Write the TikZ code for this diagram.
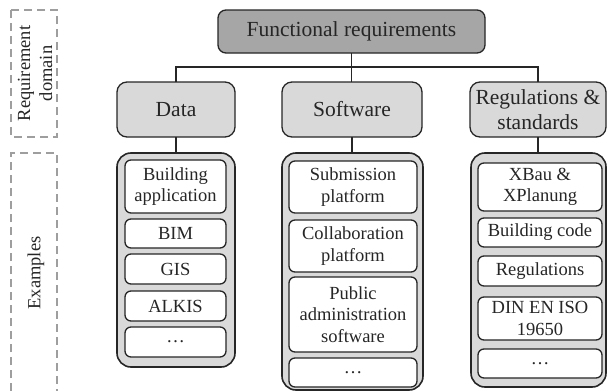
\documentclass[tikz,border=0pt]{standalone}
\usepackage{fontspec}
\setmainfont{Liberation Serif}
\definecolor{edge}{HTML}{262626}
\definecolor{topgray}{HTML}{A6A6A6}
\definecolor{midgray}{HTML}{D9D9D9}
\definecolor{dashgray}{HTML}{9E9E9E}
\begin{document}
\begin{tikzpicture}[x=1pt,y=-1pt,
  every node/.style={inner sep=0pt,outer sep=0pt,text=edge},
  topbox/.style={draw=edge,fill=topgray,line width=1.3pt,rounded corners=8pt,
    font=\fontsize{21.5}{25}\selectfont},
  domainbox/.style={draw=edge,fill=midgray,line width=1.3pt,rounded corners=10pt,
    align=center,font=\fontsize{21.5}{25}\selectfont},
  groupbox/.style={draw=edge,fill=midgray,line width=1.6pt,rounded corners=14pt},
  itembox/.style={draw=edge,fill=white,line width=1.3pt,rounded corners=6pt,
    align=center,font=\fontsize{18.5}{21.6}\selectfont},
  sidebox/.style={draw=dashgray,line width=1.5pt,dash pattern=on 8pt off 5pt},
  sidelabel/.style={rotate=90,align=center,font=\fontsize{18.5}{22}\selectfont},
  link/.style={draw=edge,line width=1.3pt}
]
\useasboundingbox (0,0) rectangle (608,391);

% side frames
\draw[sidebox] (11,10) rectangle (57,137);
\draw[sidebox] (11,391) -- (11,153) -- (57,153) -- (57,391);
\node[sidelabel] (labdomain) at (35,73.5) {Requirement\\domain};
\node[sidelabel] (labexamples) at (36,273) {Examples};

% top
\node[topbox,minimum width=267pt,minimum height=43pt] (top) at (351.5,31.5) {Functional requirements};

% domains
\node[domainbox,minimum width=118pt,minimum height=55pt] (data) at (176,109.5) {Data};
\node[domainbox,minimum width=140pt,minimum height=55pt] (soft) at (352,109.5) {Software};
\node[domainbox,minimum width=136pt,minimum height=55pt] (regs) at (538,109.5) {Regulations \&\\standards};

\coordinate (bus) at (0,67);
\draw[link] (top.south) -- (top.south |- soft.north);
\draw[link] (data.north) -- (data.north |- bus) -- (regs.north |- bus) -- (regs.north);

% groups
\node[groupbox,minimum width=118pt,minimum height=214pt] (gdata) at (176,260) {};
\node[groupbox,minimum width=141pt,minimum height=237pt] (gsoft) at (352.5,271.5) {};
\node[groupbox,minimum width=135pt,minimum height=234pt] (gregs) at (538.5,270) {};
\draw[link] (data.south) -- (data.south |- gdata.north);
\draw[link] (soft.south) -- (soft.south |- gsoft.north);
\draw[link] (regs.south) -- (regs.south |- gregs.north);

% data items
\node[itembox,minimum width=101pt,minimum height=53pt] (d1) at (175.5,186.5) {Building\\application};
\node[itembox,minimum width=101pt,minimum height=29pt] (d2) at (175.5,233.5) {BIM};
\node[itembox,minimum width=101pt,minimum height=30pt] (d3) at (175.5,269) {GIS};
\node[itembox,minimum width=101pt,minimum height=30pt] (d4) at (175.5,306) {ALKIS};
\node[itembox,minimum width=101pt,minimum height=30pt] (d5) at (175.5,342) {\dots};

% software items
\node[itembox,minimum width=128pt,minimum height=52pt] (s1) at (353,187) {Submission\\platform};
\node[itembox,minimum width=128pt,minimum height=52pt] (s2) at (353,246) {Collaboration\\platform};
\node[itembox,minimum width=128pt,minimum height=75pt] (s3) at (353,314.5) {Public\\administration\\software};
\node[itembox,minimum width=128pt,minimum height=29pt] (s4) at (353,372.5) {\dots};

% regulation items
\node[itembox,minimum width=124pt,minimum height=48pt] (r1) at (540,187) {XBau \&\\XPlanung};
\node[itembox,minimum width=124pt,minimum height=29pt] (r2) at (540,232.5) {Building code};
\node[itembox,minimum width=124pt,minimum height=30pt] (r3) at (540,271) {Regulations};
\node[itembox,minimum width=124pt,minimum height=43pt] (r4) at (540,318.5) {DIN EN ISO\\19650};
\node[itembox,minimum width=124pt,minimum height=29pt] (r5) at (540,363.5) {\dots};
\end{tikzpicture}
\end{document}
